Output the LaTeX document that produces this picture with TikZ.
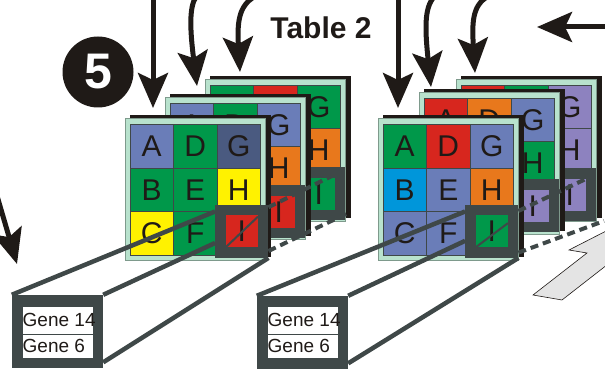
\documentclass[tikz,border=0pt]{standalone}
\usepackage{fontspec}
\setmainfont{Liberation Sans}
\usetikzlibrary{arrows.meta,calc}

\definecolor{mint}{HTML}{B8E2CD}
\definecolor{mintedge}{HTML}{7E9A8C}
\definecolor{inkblack}{HTML}{1F1A17}
\definecolor{slate}{HTML}{3F4848}
\definecolor{cblue}{HTML}{6A7DB8}
\definecolor{cslate}{HTML}{4A5A80}
\definecolor{cgreen}{HTML}{00984A}
\definecolor{cyellow}{HTML}{FFF200}
\definecolor{cred}{HTML}{D7261E}
\definecolor{corange}{HTML}{E8781C}
\definecolor{ccyan}{HTML}{0096DA}
\definecolor{cpurple}{HTML}{8D82BF}
\definecolor{arrowgrey}{HTML}{E4E4E4}

% one 3x3 card: #1,#2 grid corner, #3 name of the lens frame on cell I,
% #4 frame offset, #5 cells col/row/colour/letter, #6 colour seen through the lens
\newcommand\cardgrid[6]{%
\begin{scope}[shift={(#1,#2)}]
  \fill[inkblack] (0,-9) rectangle (140.5,133);
  \filldraw[fill=mint,draw=mintedge,line width=0.6pt] (-5,-6) rectangle (135.5,136);
  \foreach \cx/\ry/\cf/\cl in {#5}{
    \filldraw[fill=\cf,draw=slate,line width=0.7pt] (\cx*43.5,\ry*43.5) rectangle ++(43.5,43.5);
    \node[cellletter] at (\cx*43.5+21.75,\ry*43.5+21.75) {\cl};
  }
  \node[magframe] (#3) at ($(108.75,108.75)+(#4)$) {};
  \node[maginner,fill=#6] (#3-in) at (#3) {I};
\end{scope}}

\begin{document}
\begin{tikzpicture}[x=1pt,y=-1pt,
  cellletter/.style={inner sep=0pt,text=inkblack,font=\fontsize{30}{30}\selectfont},
  magframe/.style={rectangle,fill=slate,minimum size=53pt,inner sep=0pt},
  maginner/.style={rectangle,minimum size=32pt,inner sep=0pt,text=inkblack,font=\fontsize{30}{30}\selectfont},
  tube/.style={draw=slate,line width=4.5pt},
  tubedash/.style={draw=slate,line width=4pt,dash pattern=on 8pt off 5pt},
  innerline/.style={draw=slate,line width=2pt},
  toparrow/.style={draw=inkblack,line width=5pt,-{Stealth[length=35pt,width=30pt,inset=7pt]}},
  genebox/.style={rectangle,fill=slate,minimum width=91pt,minimum height=73pt,inner sep=0pt},
  genecell/.style={rectangle,draw=slate,line width=0.8pt,fill=white,minimum width=71pt,inner sep=0pt,anchor=north west},
  genetext/.style={anchor=west,inner sep=0.5pt,text=inkblack,font=\fontsize{19}{20}\selectfont}]
\useasboundingbox (0,0) rectangle (605,371);
\clip (0,0) rectangle (605,371);

% incoming arrows
\coordinate (a1s) at (153,-6);   \coordinate (a1t) at (153,108);
\coordinate (a2s) at (196,-3);   \coordinate (a2t) at (197,86);
\coordinate (a3s) at (254,-3);   \coordinate (a3t) at (240,72);
\coordinate (b1s) at (398,-6);   \coordinate (b1t) at (398,108);
\coordinate (b2s) at (434,-3);   \coordinate (b2t) at (431,87);
\coordinate (b3s) at (487,-3);   \coordinate (b3t) at (475,73);
\coordinate (hs) at (612,27);    \coordinate (ht) at (537,27);
\coordinate (ls) at (-10,172);   \coordinate (lt) at (17,264);
\draw[toparrow] (a1s) -- (a1t);
\draw[toparrow] (a2s) .. controls (189,7) and (190,30) .. (a2t);
\draw[toparrow] (a3s) .. controls (239,6) and (237,22) .. (a3t);
\draw[toparrow] (b1s) -- (b1t);
\draw[toparrow] (b2s) .. controls (424,8) and (425,30) .. (b2t);
\draw[toparrow] (b3s) .. controls (472,6) and (472,24) .. (b3t);
\draw[toparrow] (hs) -- (ht);
\draw[toparrow] (ls) -- (lt);

% light block arrow at the lower right
\filldraw[fill=arrowgrey,draw=inkblack,line width=0.6pt]
  (533,295) -- (587,253) -- (569,250) -- (612,228) -- (612,261) -- (562,300) -- cycle;

% step label and title
\node[circle,fill=inkblack,minimum size=71pt,inner sep=0pt,text=white,
  font=\bfseries\fontsize{50}{50}\selectfont] (stepfive) at (98,72) {5};
\node[text=inkblack,font=\bfseries\fontsize{30}{30}\selectfont] (title) at (321,27.5) {Table 2};

% left stack of cards
\cardgrid{210}{85}{magLB}{0,0}{0/0/cgreen/A,1/0/cred/D,2/0/cgreen/G,0/1/cblue/{},1/1/cgreen/{},2/1/corange/H,0/2/cred/{},1/2/cblue/{},2/2/cgreen/{}}{cgreen}
\cardgrid{170}{103}{magLM}{0,0}{0/0/cblue/A,1/0/cgreen/D,2/0/cblue/G,0/1/cgreen/{},1/1/cred/{},2/1/corange/H,0/2/cgreen/{},1/2/cblue/{},2/2/cred/{}}{cred}
\cardgrid{130}{124.5}{magLF}{3,-2}{0/0/cblue/A,1/0/cgreen/D,2/0/cslate/G,0/1/cgreen/B,1/1/cgreen/E,2/1/cyellow/H,0/2/cyellow/C,1/2/cgreen/F,2/2/cred/{}}{cred}

% right stack of cards
\cardgrid{461}{85}{magRB}{0,1}{0/0/cred/A,1/0/cgreen/D,2/0/cpurple/G,0/1/cgreen/{},1/1/cblue/{},2/1/cpurple/H,0/2/cblue/{},1/2/cred/{},2/2/cpurple/{}}{cpurple}
\cardgrid{424}{98}{magRM}{0,-1}{0/0/cred/A,1/0/corange/D,2/0/cblue/G,0/1/cgreen/{},1/1/cblue/{},2/1/cgreen/H,0/2/cblue/{},1/2/cred/{},2/2/cpurple/{}}{cpurple}
\cardgrid{383}{124.5}{magRF}{0,-2}{0/0/cgreen/A,1/0/cred/D,2/0/cblue/G,0/1/ccyan/B,1/1/cblue/E,2/1/corange/H,0/2/cblue/C,1/2/cblue/F,2/2/cgreen/{}}{cgreen}

% tube edges running on behind the front card
\coordinate (dLu) at (340,172);  \coordinate (dLd) at (348,213);
\coordinate (dRu) at (590,177);  \coordinate (dRd) at (604,221);
\draw[tubedash] ($(magLF.north east)!0.05!(magLF.south east)$) -- (dLu);
\draw[tubedash] ($(magLF.north east)!0.87!(magLF.south east)$) -- (dLd);
\draw[tubedash] ($(magRF.north east)!0.12!(magRF.south east)$) -- (dRu);
\draw[tubedash] ($(magRF.north east)!0.9!(magRF.south east)$) -- (dRd);

% gene boxes at the near end of each tube
\node[genebox] (boxL) at (57.5,331.5) {};
\node[genebox] (boxR) at (302.5,332.5) {};

% tube edges from the gene boxes to the lens
\draw[tube] (boxL.north west) -- ($(magLF.north west)!0.13!(magLF.south west)$);
\draw[tube] (boxL.north east) -- ($(magLF.north west)!0.72!(magLF.south west)$);
\draw[tube] ($(boxL.north east)!0.92!(boxL.south east)$) -- (magLF.south east);
\draw[tube] (boxR.north west) -- ($(magRF.north west)!0.13!(magRF.south west)$);
\draw[tube] (boxR.north east) -- ($(magRF.north west)!0.68!(magRF.south west)$);
\draw[tube] ($(boxR.north east)!0.92!(boxR.south east)$) -- (magRF.south east);
\draw[innerline] (magLF-in.south west) -- ($(magLF-in.north east)!0.05!(magLF-in.south east)$);
\draw[innerline] (magRF-in.south west) -- ($(magRF-in.north east)!0.25!(magRF-in.south east)$);

% gene labels
\node[genecell,minimum height=28pt] (cellL1) at (22,306) {};
\node[genecell,minimum height=24pt] (cellL2) at (22,334) {};
\node[genecell,minimum height=28pt] (cellR1) at (267,306) {};
\node[genecell,minimum height=24pt] (cellR2) at (267,334) {};
\node[genetext] (geneL1) at (cellL1.west) {Gene 14};
\node[genetext] (geneL2) at (cellL2.west) {Gene 6};
\node[genetext] (geneR1) at (cellR1.west) {Gene 14};
\node[genetext] (geneR2) at (cellR2.west) {Gene 6};
\end{tikzpicture}
\end{document}
